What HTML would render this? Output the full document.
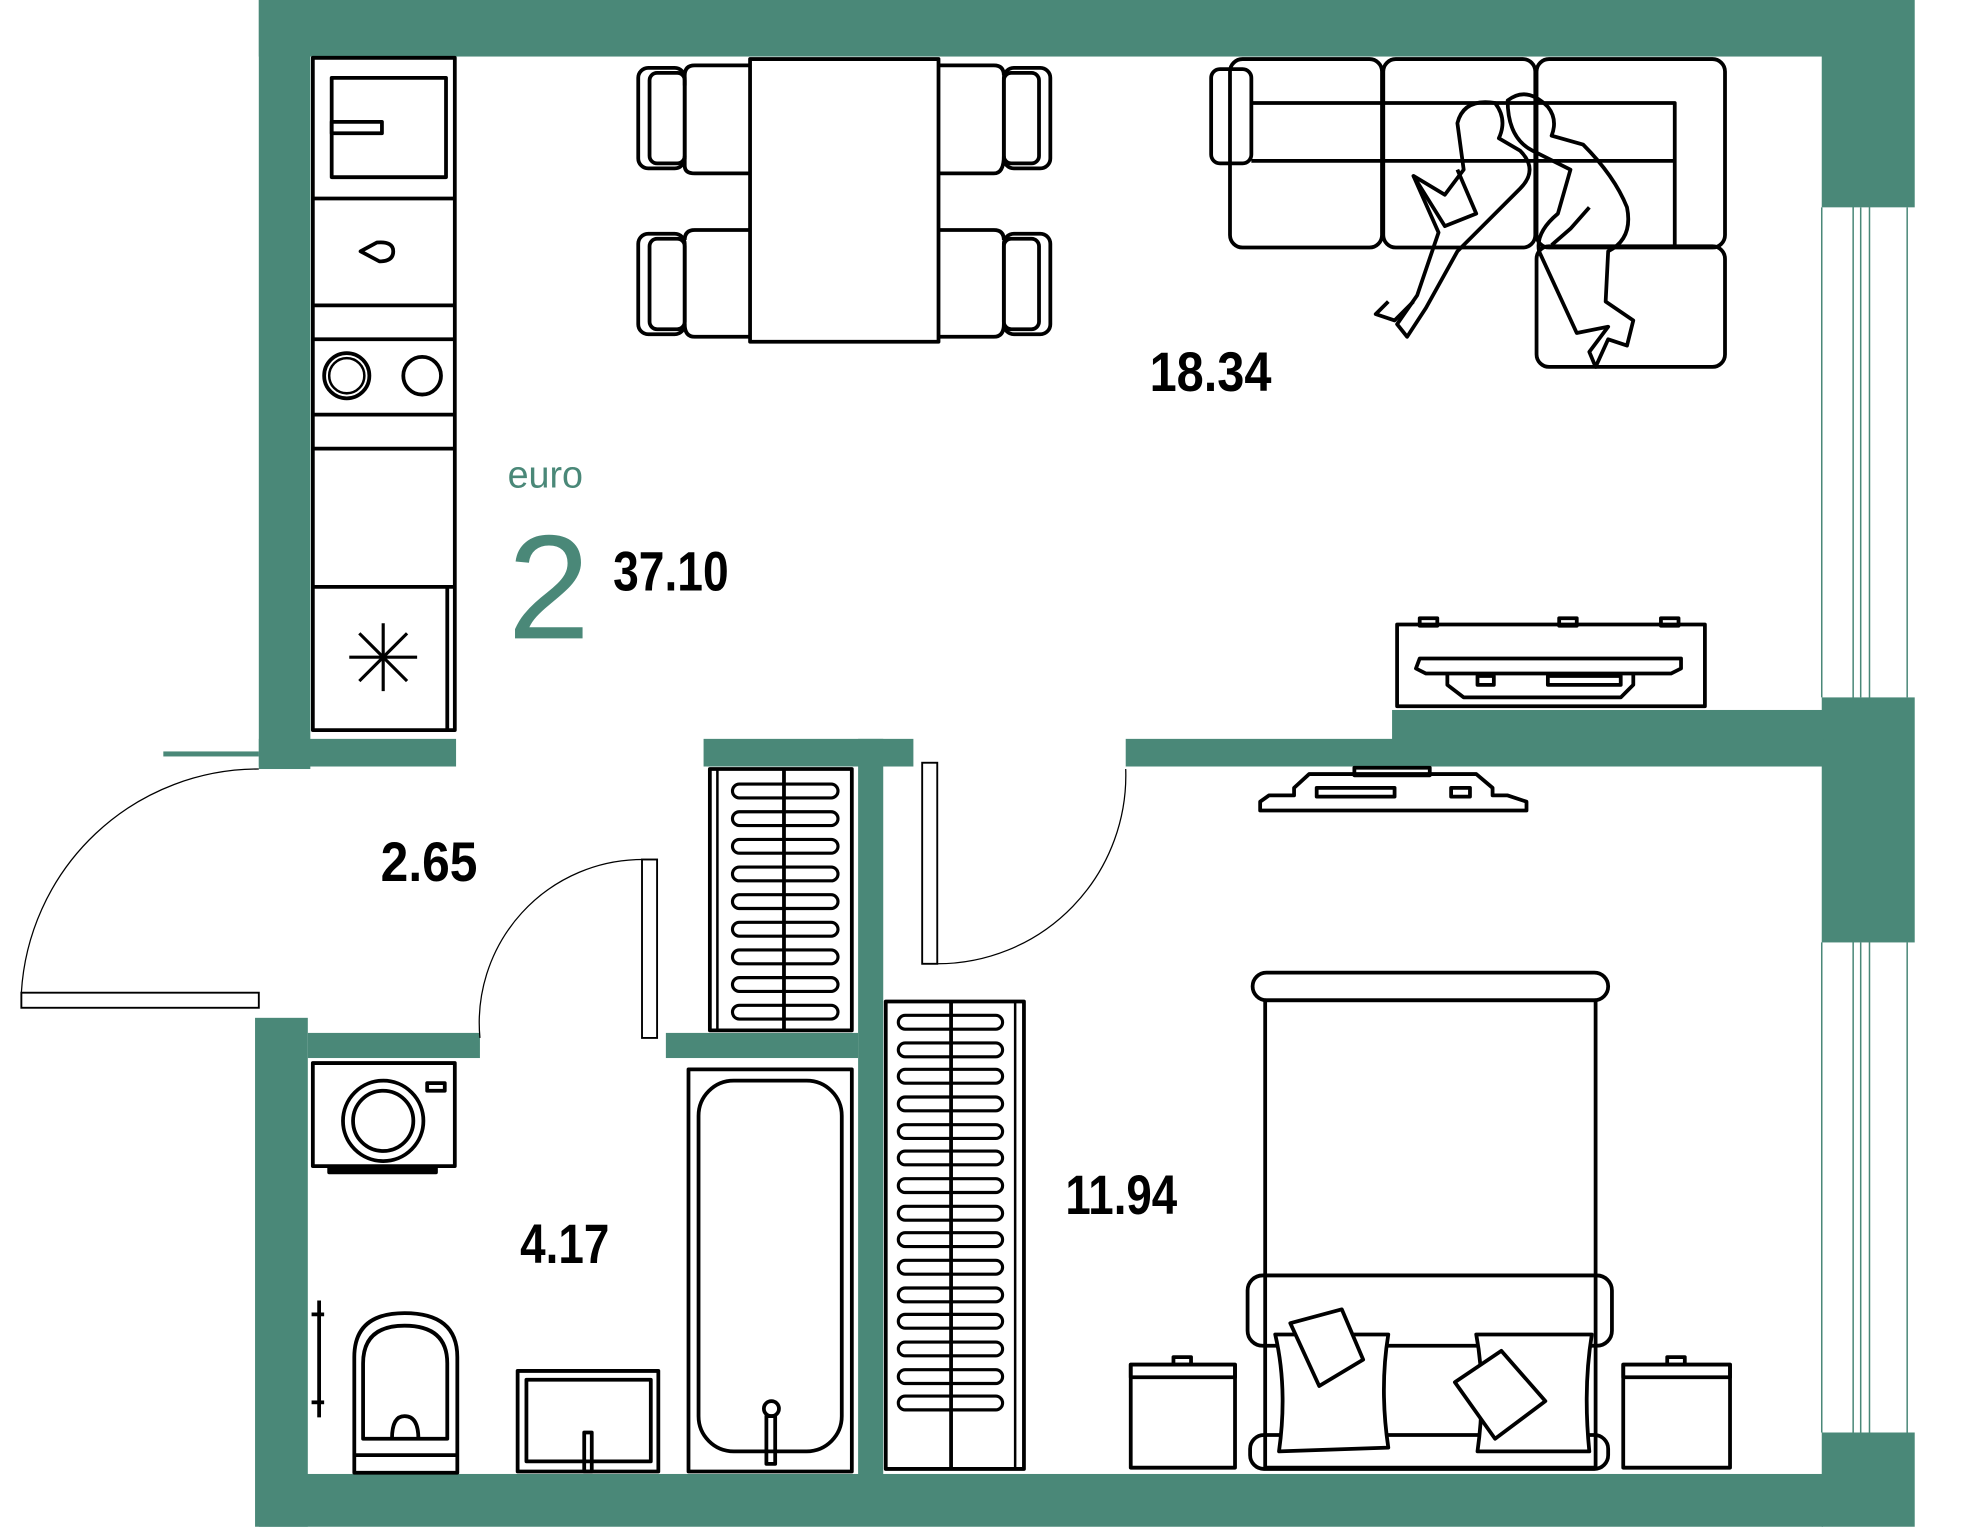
<!DOCTYPE html>
<html><head><meta charset="utf-8"><style>
html,body{margin:0;padding:0;background:#fff;}
svg{display:block}
text{font-family:"Liberation Sans Narrow","Liberation Sans",sans-serif;font-weight:bold}
</style></head><body>
<svg width="1970" height="1528" viewBox="0 0 1568 1216" preserveAspectRatio="none" xmlns="http://www.w3.org/2000/svg">
<rect width="1568" height="1216" fill="#fff"/>
<g fill="#4a8878">
<rect x="206" y="0" width="1245" height="45"/>
<rect x="1450" y="0" width="74" height="165"/>
<rect x="206" y="0" width="41" height="612"/>
<rect x="206" y="588" width="157" height="22"/>
<rect x="130" y="598" width="76" height="4"/>
<rect x="203" y="810" width="42" height="405"/>
<rect x="206" y="1173" width="1245" height="42"/>
<rect x="1450" y="1140" width="74" height="75"/>
<rect x="1450" y="555" width="74" height="195"/>
<rect x="560" y="588" width="167" height="22"/>
<rect x="896" y="588" width="555" height="22"/>
<rect x="1108" y="565" width="343" height="25"/>
<rect x="683" y="588" width="20" height="587"/>
<rect x="245" y="822" width="137" height="20"/>
<rect x="530" y="822" width="153" height="20"/>
</g>
<g fill="none" stroke="#4a8878" stroke-width="1.2">
<line x1="1450" y1="165" x2="1450" y2="555"/><line x1="1518" y1="165" x2="1518" y2="555"/>
<rect x="1475" y="160" width="13" height="400"/><line x1="1481" y1="165" x2="1481" y2="555"/>
<line x1="1450" y1="750" x2="1450" y2="1140"/><line x1="1518" y1="750" x2="1518" y2="1140"/>
<rect x="1475" y="745" width="13" height="400"/><line x1="1481" y1="750" x2="1481" y2="1140"/>
</g>
<g fill="none" stroke="#000" stroke-width="3" stroke-linejoin="round">
<rect x="249" y="46" width="113" height="535"/>
<rect x="264" y="62" width="91" height="79"/><rect x="264" y="97" width="40" height="9"/>
<line x1="249" y1="158" x2="362" y2="158"/><line x1="249" y1="243" x2="362" y2="243"/>
<line x1="249" y1="270" x2="362" y2="270"/><line x1="249" y1="330" x2="362" y2="330"/>
<line x1="249" y1="357" x2="362" y2="357"/><line x1="249" y1="467" x2="362" y2="467"/>
<path d="M287 200 L300 193 Q313 192 313 200 Q313 208 302 208 Z"/>
<circle cx="276" cy="299" r="18"/><circle cx="276" cy="299" r="14" stroke-width="2"/><circle cx="336" cy="299" r="15"/>
<g stroke-width="2.5"><line x1="305" y1="496" x2="305" y2="550"/><line x1="278" y1="523" x2="332" y2="523"/><line x1="286" y1="504" x2="324" y2="542"/><line x1="324" y1="504" x2="286" y2="542"/></g>
<line x1="356" y1="467" x2="356" y2="581"/>
<rect x="597" y="47" width="150" height="225"/>
<path d="M597 52 H553 Q545 52 545 60 V68 M545 124 V132 Q545 138 553 138 H597"/>
<rect x="508" y="54" width="37" height="80" rx="8"/><rect x="517" y="58" width="28" height="72" rx="6"/>
<path d="M597 183 H553 Q545 183 545 191 M545 258 Q545 268 553 268 H597"/>
<rect x="508" y="186" width="37" height="80" rx="8"/><rect x="517" y="190" width="28" height="72" rx="6"/>
<path d="M747 52 H791 Q799 52 799 60 M799 124 Q799 138 791 138 H747"/>
<rect x="799" y="54" width="37" height="80" rx="8"/><rect x="799" y="58" width="28" height="72" rx="6"/>
<path d="M747 183 H791 Q799 183 799 191 M799 258 Q799 268 791 268 H747"/>
<rect x="799" y="186" width="37" height="80" rx="8"/><rect x="799" y="190" width="28" height="72" rx="6"/>
<rect x="979" y="47" width="121" height="150" rx="10"/>
<rect x="1101" y="47" width="121" height="150" rx="10"/>
<rect x="1223" y="47" width="150" height="150" rx="10"/>
<rect x="1223" y="196" width="150" height="96" rx="10"/>
<rect x="964" y="55" width="32" height="75" rx="7"/>
<path d="M996 82 H1333 V197 M996 128 H1333"/>
<path d="M1160 98 Q1165 78 1190 82 Q1200 95 1193 110 L1210 120 Q1225 135 1210 150 L1180 180 L1160 200 L1135 245 L1120 268 L1112 258 L1128 235 L1145 185 L1125 140 L1150 155 L1165 135 Z"/>
<path d="M1125 140 L1150 180 L1175 170 L1160 135"/>
<path d="M1105 240 L1095 250 L1110 255 L1125 240"/>
<path d="M1200 80 Q1215 68 1232 85 Q1240 95 1235 108 L1260 115 Q1285 140 1295 165 Q1300 190 1280 200 L1278 240 L1300 255 L1295 275 L1280 270 L1270 292 L1265 280 L1280 260 L1255 265 L1225 200 Q1222 185 1240 170 L1250 135 L1220 120 Q1200 110 1200 80 Z"/>
<path d="M1235 195 L1250 182 L1265 165"/>
<rect x="1112" y="497" width="245" height="65"/>
<rect x="1130" y="492" width="14" height="6"/><rect x="1241" y="492" width="14" height="6"/><rect x="1322" y="492" width="14" height="6"/>
<path d="M1130 524 H1338 L1338 532 L1330 536 H1135 L1127 532 Z"/>
<path d="M1152 537 V545 L1165 555 H1290 L1300 545 V537"/>
<rect x="1176" y="538" width="13" height="7"/><rect x="1232" y="538" width="58" height="7"/>
<path d="M1003 645 H1215 V638 L1200 633 H1188 V627 L1175 616 H1042 L1030 627 V633 H1010 L1003 638 Z"/>
<rect x="1078" y="611" width="60" height="6"/><rect x="1048" y="627" width="62" height="7"/><rect x="1155" y="627" width="15" height="7"/>
<rect x="997" y="774" width="283" height="22" rx="11"/>
<rect x="1007" y="796" width="263" height="372"/>
<rect x="993" y="1015" width="290" height="56" rx="12"/>
<rect x="995" y="1142" width="285" height="27" rx="11"/>
<path d="M1015 1062 L1105 1062 Q1098 1105 1105 1152 L1018 1155 Q1025 1105 1015 1062 Z" fill="#fff"/>
<path d="M1027 1053 L1068 1042 L1085 1082 L1050 1103 Z" fill="#fff"/>
<path d="M1175 1062 L1267 1062 Q1260 1105 1265 1155 L1176 1155 Q1183 1105 1175 1062 Z" fill="#fff"/>
<path d="M1158 1100 L1195 1075 L1230 1115 L1190 1145 Z" fill="#fff"/>
<rect x="900" y="1086" width="83" height="82"/><rect x="900" y="1086" width="83" height="10"/><rect x="934" y="1080" width="14" height="6"/>
<rect x="1292" y="1086" width="85" height="82"/><rect x="1292" y="1086" width="85" height="10"/><rect x="1327" y="1080" width="14" height="6"/>
<rect x="705" y="797" width="110" height="372"/><line x1="757" y1="797" x2="757" y2="1169"/><line x1="808" y1="797" x2="808" y2="1169" stroke-width="2"/>
<rect x="565" y="612" width="113" height="208"/><line x1="624" y1="612" x2="624" y2="820"/><line x1="571" y1="612" x2="571" y2="820" stroke-width="2"/>
<rect x="249" y="846" width="113" height="82"/><rect x="262" y="930" width="85" height="3"/>
<circle cx="305" cy="892" r="32"/><circle cx="305" cy="892" r="24"/><rect x="340" y="862" width="14" height="6"/>
<path d="M282 1172 V1080 Q282 1045 322 1045 Q364 1045 364 1080 V1172 Z M289 1145 V1085 Q289 1055 322 1055 Q356 1055 356 1085 V1145 Z"/>
<path d="M312 1145 Q312 1127 322 1127 Q333 1127 333 1145"/><line x1="282" y1="1158" x2="364" y2="1158"/>
<line x1="254" y1="1035" x2="254" y2="1128"/><line x1="248" y1="1046" x2="258" y2="1046"/><line x1="248" y1="1116" x2="258" y2="1116"/>
<rect x="412" y="1091" width="112" height="80"/><rect x="419" y="1098" width="99" height="65"/><rect x="465" y="1140" width="6" height="31"/>
<rect x="548" y="851" width="130" height="320"/><rect x="556" y="860" width="114" height="295" rx="28"/>
<circle cx="614" cy="1121" r="6"/><rect x="610" y="1127" width="7" height="38"/>
</g>
<g fill="none" stroke="#000" stroke-width="2.5">
<rect x="583" y="624" width="84" height="11" rx="5.5"/>
<rect x="583" y="646" width="84" height="11" rx="5.5"/>
<rect x="583" y="668" width="84" height="11" rx="5.5"/>
<rect x="583" y="690" width="84" height="11" rx="5.5"/>
<rect x="583" y="712" width="84" height="11" rx="5.5"/>
<rect x="583" y="734" width="84" height="11" rx="5.5"/>
<rect x="583" y="756" width="84" height="11" rx="5.5"/>
<rect x="583" y="778" width="84" height="11" rx="5.5"/>
<rect x="583" y="800" width="84" height="11" rx="5.5"/>
<rect x="715" y="808" width="83" height="11" rx="5.5"/>
<rect x="715" y="830" width="83" height="11" rx="5.5"/>
<rect x="715" y="851" width="83" height="11" rx="5.5"/>
<rect x="715" y="873" width="83" height="11" rx="5.5"/>
<rect x="715" y="895" width="83" height="11" rx="5.5"/>
<rect x="715" y="916" width="83" height="11" rx="5.5"/>
<rect x="715" y="938" width="83" height="11" rx="5.5"/>
<rect x="715" y="960" width="83" height="11" rx="5.5"/>
<rect x="715" y="981" width="83" height="11" rx="5.5"/>
<rect x="715" y="1003" width="83" height="11" rx="5.5"/>
<rect x="715" y="1025" width="83" height="11" rx="5.5"/>
<rect x="715" y="1046" width="83" height="11" rx="5.5"/>
<rect x="715" y="1068" width="83" height="11" rx="5.5"/>
<rect x="715" y="1090" width="83" height="11" rx="5.5"/>
<rect x="715" y="1111" width="83" height="11" rx="5.5"/>
</g>
<g fill="none" stroke="#000">
<rect x="17" y="790" width="189" height="12" stroke-width="1.5"/>
<path d="M17 790 A189 189 0 0 1 206 612" stroke-width="1"/>
<rect x="511" y="684" width="12" height="142" stroke-width="1.5"/>
<path d="M382 826 A130 130 0 0 1 511 684" stroke-width="1"/>
<rect x="734" y="607" width="12" height="160" stroke-width="1.5"/>
<path d="M746 767 A150 150 0 0 0 896 612" stroke-width="1"/>
</g>
<text x="404" y="388" font-size="30" fill="#4a8878" style="font-weight:normal">euro</text>
<text x="404" y="508" font-size="118" fill="#4a8878" style="font-weight:normal">2</text>
<g font-size="44" fill="#000">
<text x="488" y="470" textLength="92" lengthAdjust="spacingAndGlyphs">37.10</text>
<text x="915" y="311" textLength="97" lengthAdjust="spacingAndGlyphs">18.34</text>
<text x="303" y="701" textLength="77" lengthAdjust="spacingAndGlyphs">2.65</text>
<text x="414" y="1005" textLength="71" lengthAdjust="spacingAndGlyphs">4.17</text>
<text x="848" y="966" textLength="89" lengthAdjust="spacingAndGlyphs">11.94</text>
</g>
</svg>
</body></html>
